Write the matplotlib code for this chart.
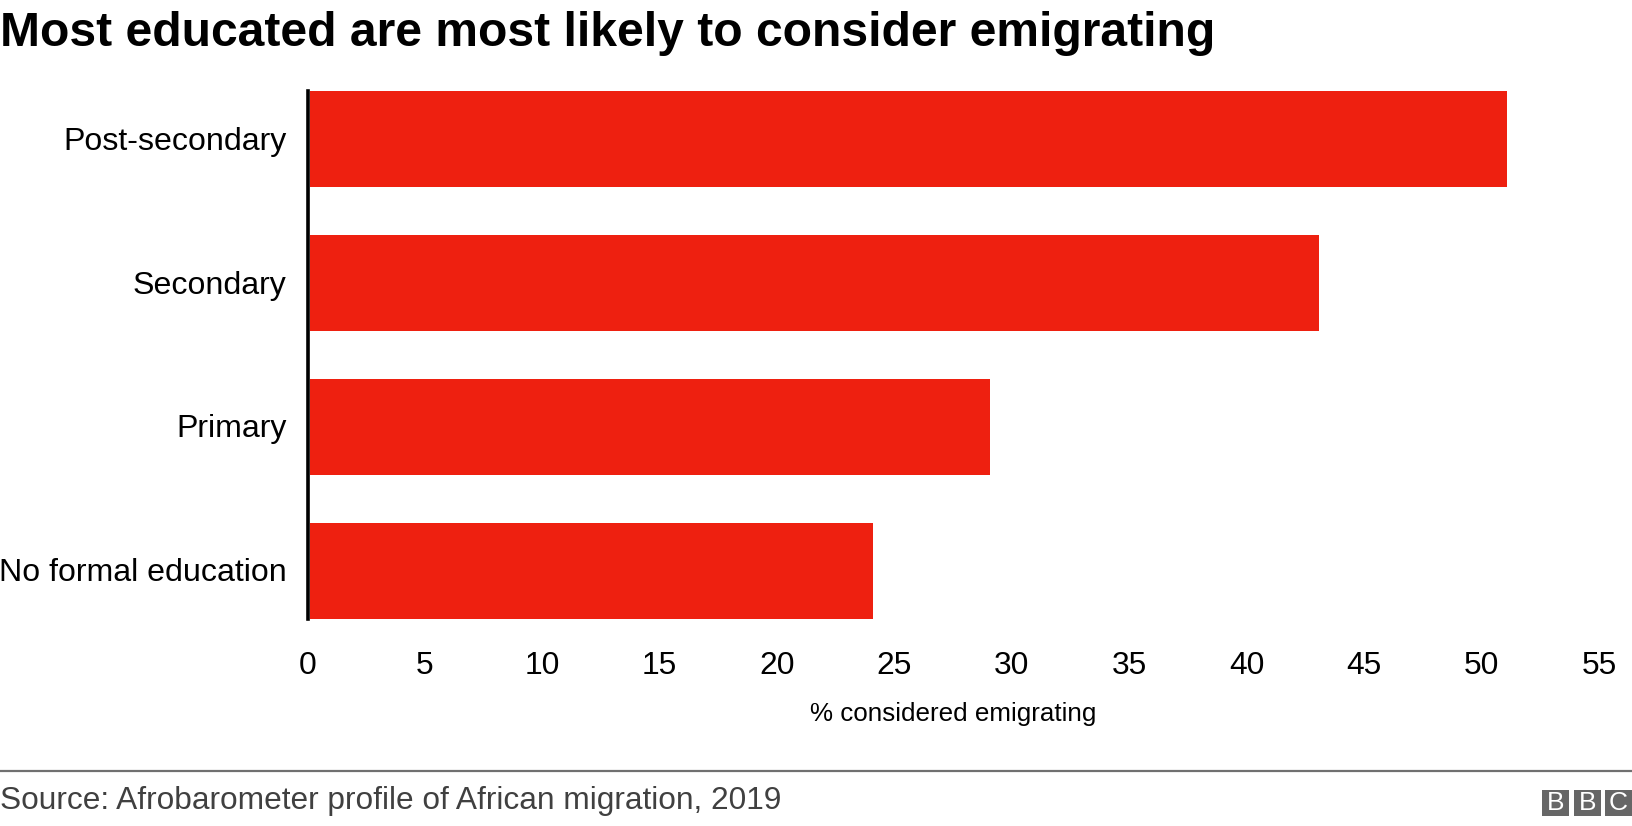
import matplotlib
matplotlib.use('Agg')
import matplotlib.pyplot as plt
from matplotlib.patches import Rectangle
from matplotlib.transforms import ScaledTranslation

plt.rcParams['font.family'] = ['Liberation Sans', 'DejaVu Sans']

categories = ['No formal education', 'Primary', 'Secondary', 'Post-secondary']
values = [24, 29, 43, 51]
xticks = [0, 5, 10, 15, 20, 25, 30, 35, 40, 45, 50, 55]

W, H = 1632, 826
fig = plt.figure(figsize=(W / 100, H / 100), dpi=100)
ax = fig.add_axes([309.5 / W, 1 - 619 / H, (1601 - 309.5) / W, (619 - 91) / H])

ax.barh(range(len(categories)), values, height=0.667, color='#ee2010', zorder=2)
ax.set_xlim(0, 55)
ax.set_ylim(-0.335, 3.335)
ax.set_yticks(range(len(categories)))
ax.set_yticklabels(categories)
ax.set_xticks(xticks)
ax.tick_params(axis='x', length=0, pad=23, labelsize=22.9)
ax.tick_params(axis='y', length=0, pad=15.4, labelsize=23.1)
for s in ['top', 'right', 'bottom']:
    ax.spines[s].set_visible(False)
ax.spines['left'].set_linewidth(2.6)
ax.spines['left'].set_zorder(3)
ax.spines['left'].set_position(('outward', 1))

# nudge tick labels to sit where the original has them
for lab in ax.get_xticklabels():
    lab.set_transform(lab.get_transform() + ScaledTranslation(-2 / 100, 0, fig.dpi_scale_trans))
for lab in ax.get_yticklabels():
    lab.set_transform(lab.get_transform() + ScaledTranslation(0, 1 / 100, fig.dpi_scale_trans))

ax.set_xlabel('% considered emigrating', fontsize=18.75)
ax.xaxis.set_label_coords((953 - 309.5) / (1601 - 309.5), 1 - (721 - 91) / (619 - 91))
ax.xaxis.label.set_va('baseline')

fig.text(0, 1 - 46 / H, 'Most educated are most likely to consider emigrating',
         fontsize=34.6, fontweight='bold', va='baseline', ha='left', color='black')
fig.text(0, 1 - 809 / H, 'Source: Afrobarometer profile of African migration, 2019',
         fontsize=22.8, va='baseline', ha='left', color='#404040')

# footer rule
fig.add_artist(plt.Line2D([0, 1], [1 - 771 / H, 1 - 771 / H], color='#707070', lw=1.6))

# BBC blocks
for x0, letter in zip([1542, 1574, 1605], 'BBC'):
    fig.add_artist(Rectangle((x0 / W, 1 - 816 / H), 27 / W, 26 / H, color='#666666', lw=0))
    fig.text((x0 + 13.5) / W, 1 - 803 / H, letter, color='white', fontsize=19,
             ha='center', va='center')

fig.savefig('out.png', dpi=100, facecolor='white')
